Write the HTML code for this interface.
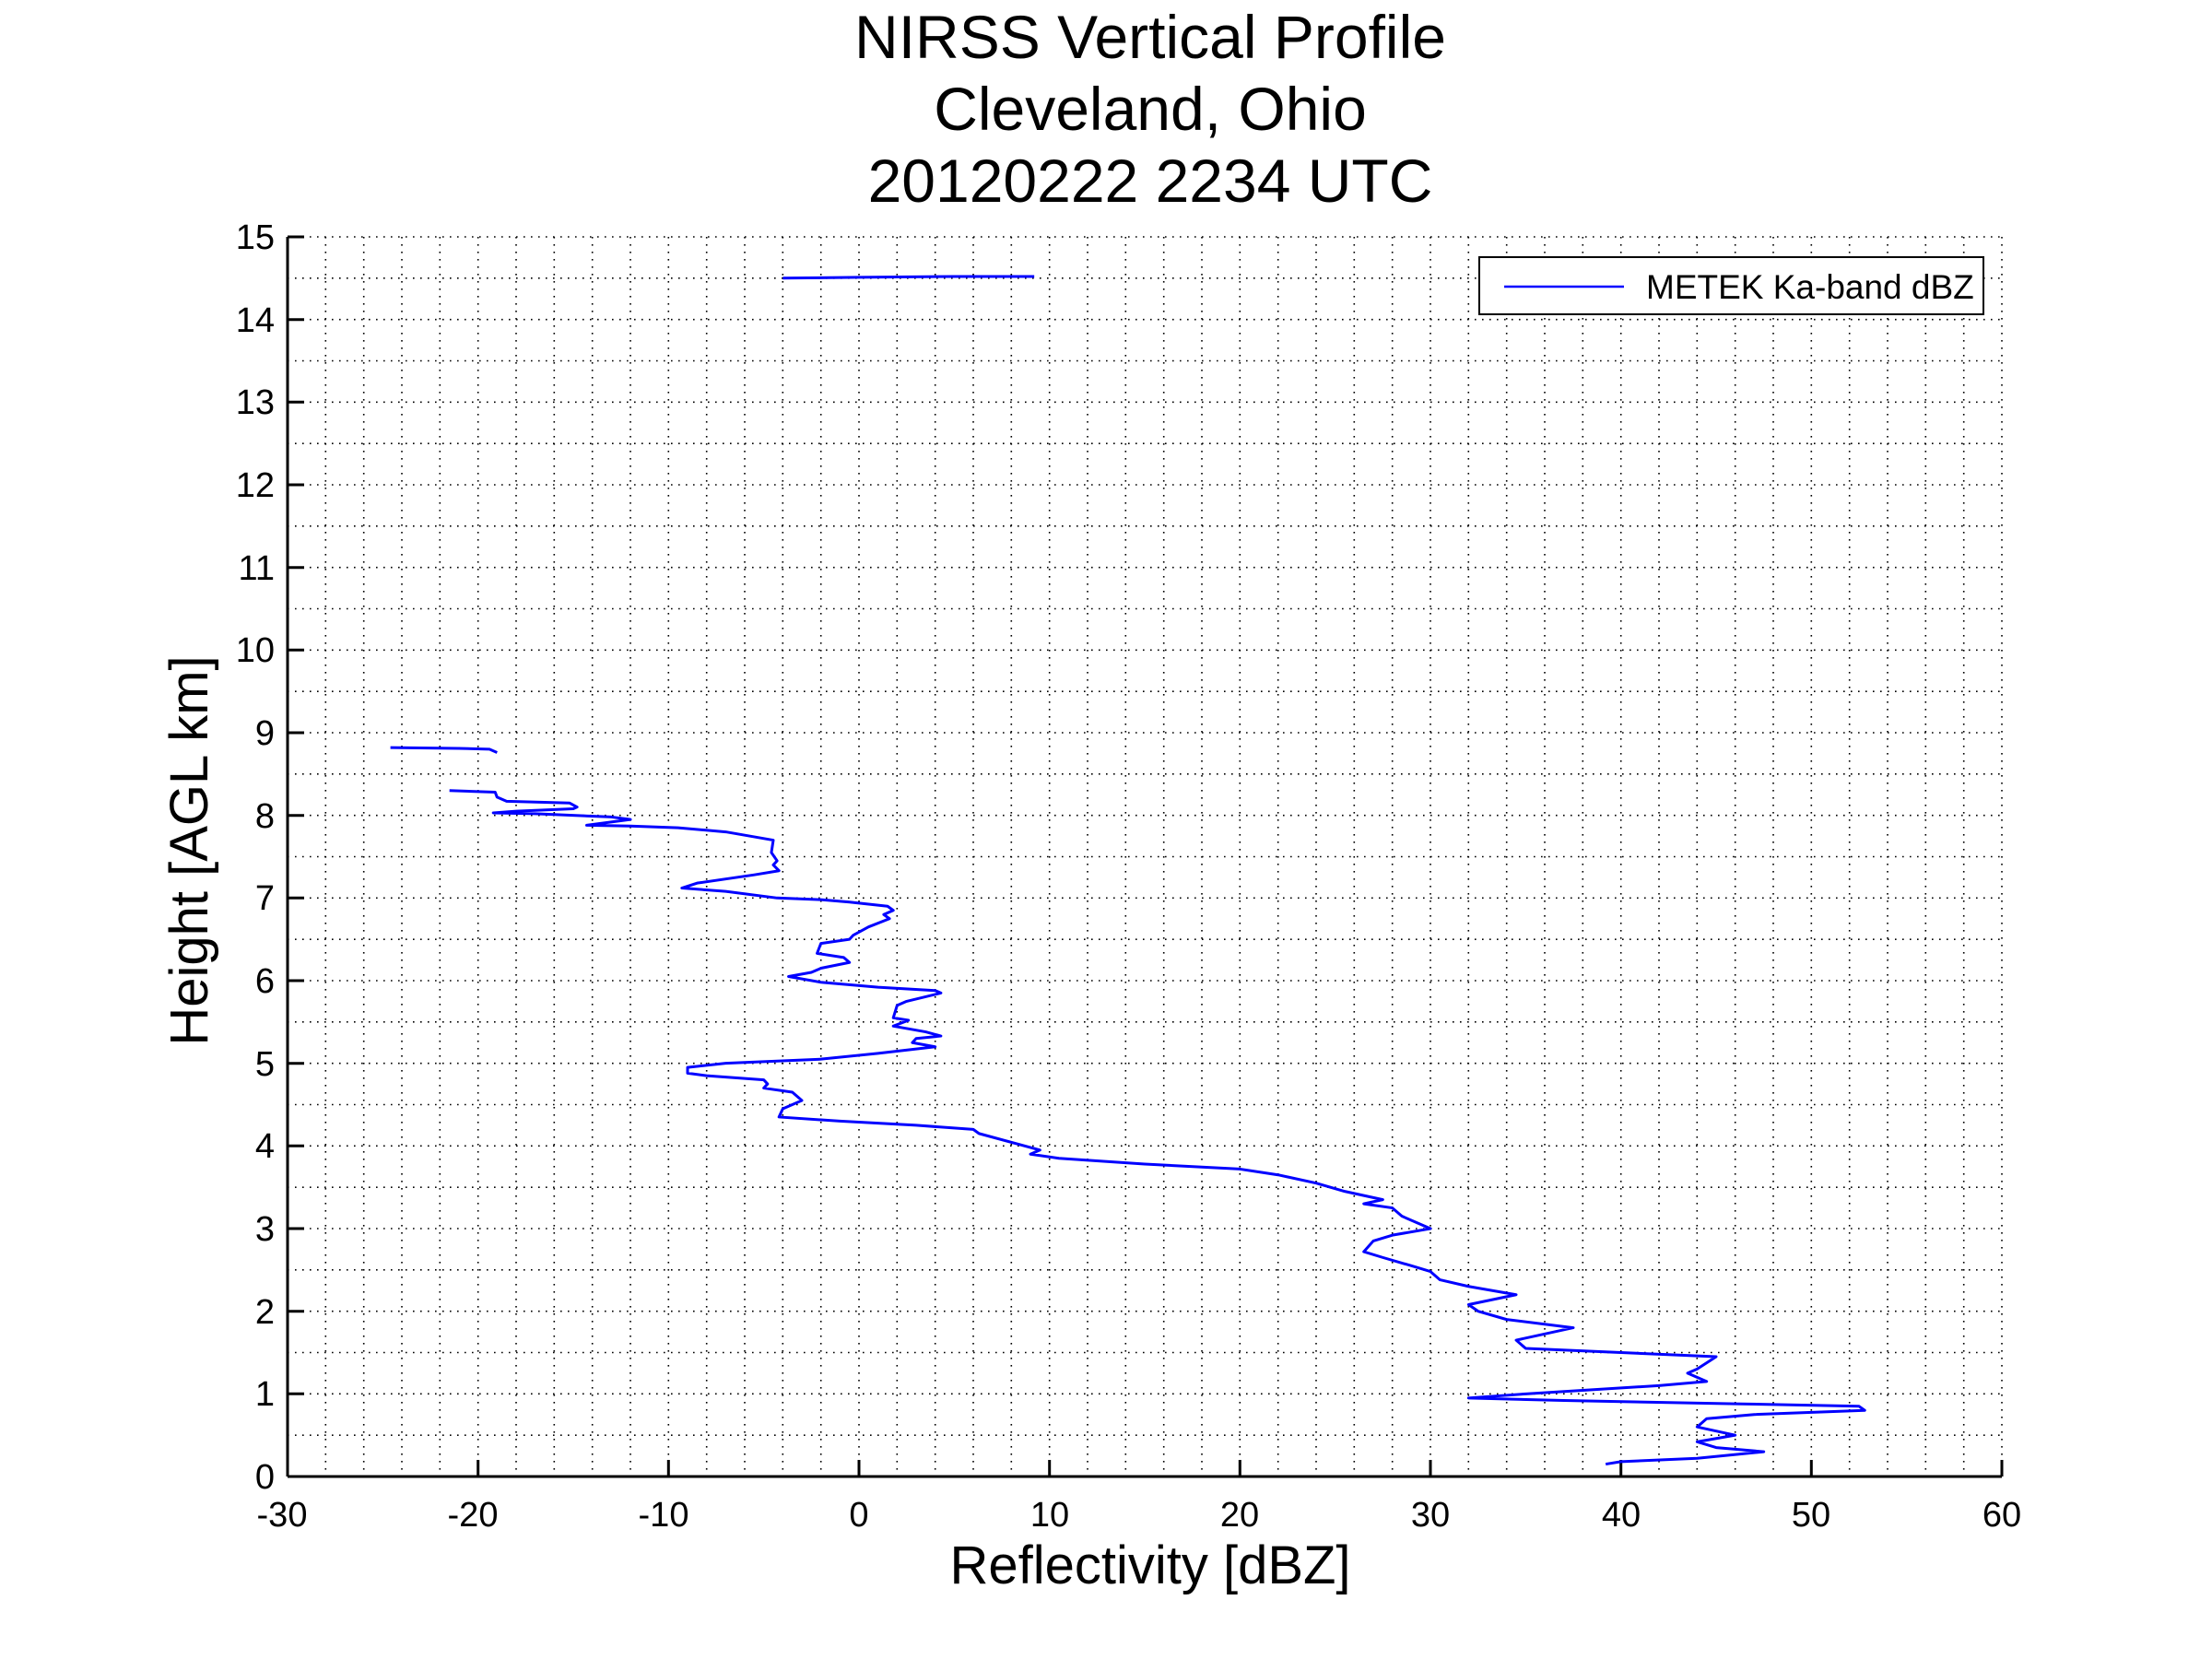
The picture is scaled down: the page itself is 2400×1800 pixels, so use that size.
<!DOCTYPE html>
<html><head><meta charset="utf-8"><style>
html,body{margin:0;padding:0;background:#fff;}
svg{display:block;}
text{font-family:"Liberation Sans",sans-serif;fill:#000;}
</style></head><body>
<svg width="2400" height="1800" viewBox="0 0 2400 1800" xmlns="http://www.w3.org/2000/svg">
<rect width="2400" height="1800" fill="#fff"/>
<g id="grid" stroke="#000" stroke-width="1.6" stroke-dasharray="1.6,6.4" fill="none">
<path d="M353.3,257V1602M394.7,257V1602M436,257V1602M477.3,257V1602M518.7,257V1602M560,257V1602M601.3,257V1602M642.7,257V1602M684,257V1602M725.3,257V1602M766.7,257V1602M808,257V1602M849.3,257V1602M890.7,257V1602M932,257V1602M973.3,257V1602M1014.7,257V1602M1056,257V1602M1097.3,257V1602M1138.7,257V1602M1180,257V1602M1221.3,257V1602M1262.7,257V1602M1304,257V1602M1345.3,257V1602M1386.7,257V1602M1428,257V1602M1469.3,257V1602M1510.7,257V1602M1552,257V1602M1593.3,257V1602M1634.7,257V1602M1676,257V1602M1717.3,257V1602M1758.7,257V1602M1800,257V1602M1841.3,257V1602M1882.7,257V1602M1924,257V1602M1965.3,257V1602M2006.7,257V1602M2048,257V1602M2089.3,257V1602M2130.7,257V1602M2172,257V1602"/>
<path d="M312,257H2172M312,301.8H2172M312,346.7H2172M312,391.5H2172M312,436.3H2172M312,481.2H2172M312,526H2172M312,570.8H2172M312,615.7H2172M312,660.5H2172M312,705.3H2172M312,750.2H2172M312,795H2172M312,839.8H2172M312,884.7H2172M312,929.5H2172M312,974.3H2172M312,1019.2H2172M312,1064H2172M312,1108.8H2172M312,1153.7H2172M312,1198.5H2172M312,1243.3H2172M312,1288.2H2172M312,1333H2172M312,1377.8H2172M312,1422.7H2172M312,1467.5H2172M312,1512.3H2172M312,1557.2H2172"/>
</g>
<g stroke="#000" stroke-width="3" fill="none">
<path d="M312,1602H2172M312,257V1602"/>
<path d="M518.7,1602v-18M725.3,1602v-18M932,1602v-18M1138.7,1602v-18M1345.3,1602v-18M1552,1602v-18M1758.7,1602v-18M1965.3,1602v-18M2172,1602v-18"/>
<path d="M312,257h18M312,346.7h18M312,436.3h18M312,526h18M312,615.7h18M312,705.3h18M312,795h18M312,884.7h18M312,974.3h18M312,1064h18M312,1153.7h18M312,1243.3h18M312,1333h18M312,1422.7h18M312,1512.3h18"/>
</g>
<g transform="translate(312,1602) scale(20.667,-89.67) translate(30,0)" fill="none" stroke="#0000ff" stroke-width="3" stroke-linejoin="round">
<polyline vector-effect="non-scaling-stroke" points="-4,14.5 0,14.51 5,14.52 9.2,14.52"/>
<polyline vector-effect="non-scaling-stroke" points="-24.6,8.82 -21,8.81 -19.4,8.80 -19,8.76"/>
<polyline vector-effect="non-scaling-stroke" points="-21.5,8.30 -19.1,8.28 -19,8.22 -18.5,8.17 -15.2,8.15 -14.8,8.10 -15,8.08 -18,8.05 -19.2,8.03 -17,8.02 -13,7.98 -12,7.95 -14.3,7.88 -12,7.87 -9.5,7.85 -7,7.8 -4.5,7.70 -4.6,7.55 -4.3,7.45 -4.5,7.40 -4.2,7.33 -5.5,7.28 -8.5,7.18 -9.3,7.12 -7,7.08 -4.3,7.0 -2,6.98 -0.5,6.95 1.5,6.90 1.8,6.85 1.3,6.8 1.6,6.75 0.5,6.65 -0.3,6.55 -0.5,6.50 -2,6.45 -2.2,6.33 -0.8,6.28 -0.5,6.22 -2,6.15 -2.5,6.10 -3.7,6.05 -2,5.98 1,5.92 4,5.88 4.3,5.85 2.5,5.75 2,5.70 1.8,5.55 2.6,5.52 1.8,5.45 3.5,5.38 4.3,5.33 3,5.30 2.8,5.25 4,5.20 1,5.12 -2,5.05 -7,5.0 -9,4.95 -9,4.88 -8,4.85 -5,4.80 -4.8,4.75 -5,4.70 -3.5,4.65 -3,4.55 -4,4.45 -4.2,4.35 -1,4.30 3,4.25 6,4.20 6.3,4.15 9.5,3.95 9,3.90 10.5,3.85 15,3.78 20,3.72 22,3.65 24,3.55 25.5,3.45 27.5,3.35 26.5,3.30 28,3.25 28.5,3.15 30,3.0 28,2.92 27,2.85 26.5,2.72 27.5,2.65 29,2.55 30,2.48 30.5,2.38 32,2.30 34.5,2.2 32,2.08 32.5,2.00 34,1.90 37.5,1.80 34.5,1.65 35,1.55 40,1.50 45,1.45 44,1.30 43.5,1.25 44.5,1.15 42,1.10 35,1.00 32,0.95 37,0.92 46,0.88 52.5,0.85 52.8,0.80 47,0.75 44.5,0.70 44,0.60 46,0.50 44,0.42 45,0.35 47.5,0.30 44,0.22 40,0.18 39.2,0.15"/>
</g>
<g font-size="38" text-anchor="end">
<text x="298" y="270">15</text><text x="298" y="360">14</text><text x="298" y="449">13</text><text x="298" y="539">12</text><text x="298" y="629">11</text><text x="298" y="718">10</text><text x="298" y="808">9</text><text x="298" y="898">8</text><text x="298" y="987">7</text><text x="298" y="1077">6</text><text x="298" y="1167">5</text><text x="298" y="1256">4</text><text x="298" y="1346">3</text><text x="298" y="1436">2</text><text x="298" y="1525">1</text><text x="298" y="1615">0</text>
</g>
<g font-size="38" text-anchor="middle">
<text x="306" y="1656">-30</text><text x="513" y="1656">-20</text><text x="720" y="1656">-10</text><text x="932" y="1656">0</text><text x="1139" y="1656">10</text><text x="1345" y="1656">20</text><text x="1552" y="1656">30</text><text x="1759" y="1656">40</text><text x="1965" y="1656">50</text><text x="2172" y="1656">60</text>
</g>
<text x="1248" y="1718" font-size="58" text-anchor="middle">Reflectivity [dBZ]</text>
<text transform="translate(225,923) rotate(-90)" font-size="58" text-anchor="middle">Height [AGL km]</text>
<g font-size="66" text-anchor="middle">
<text x="1248" y="63">NIRSS Vertical Profile</text>
<text x="1248" y="141">Cleveland, Ohio</text>
<text x="1248" y="219">20120222 2234 UTC</text>
</g>
<rect x="1605" y="279" width="547" height="62" fill="#fff" stroke="#000" stroke-width="2"/>
<line x1="1632" y1="311" x2="1762" y2="311" stroke="#0000ff" stroke-width="2.5"/>
<text x="1786" y="324" font-size="37">METEK Ka-band dBZ</text>
</svg>
</body></html>
